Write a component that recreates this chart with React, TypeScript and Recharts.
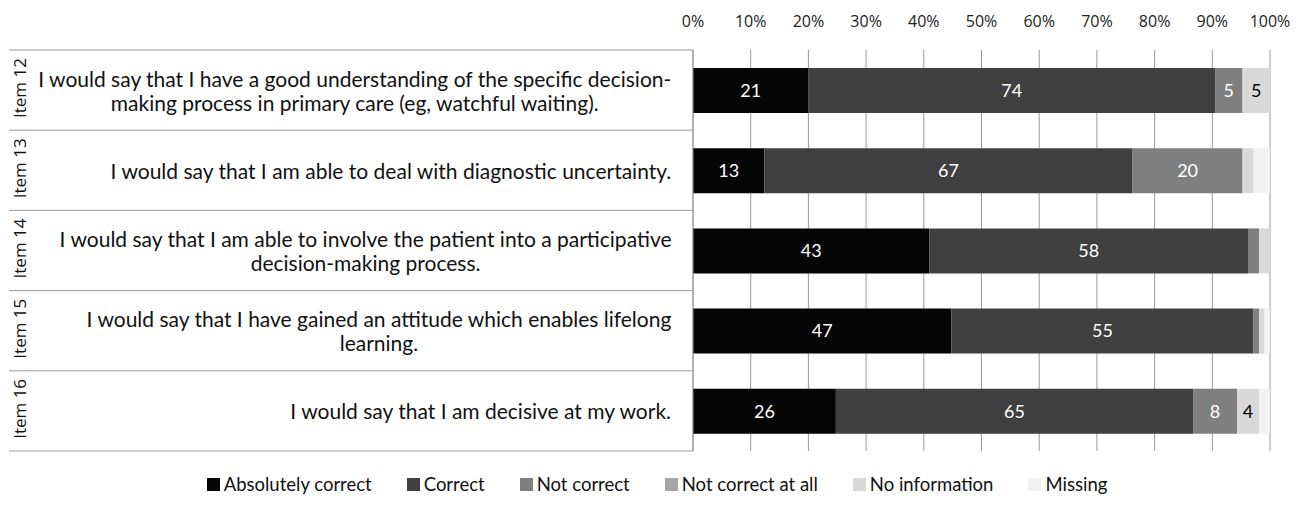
import React from 'react';
import { BarChart, Bar, XAxis, YAxis, CartesianGrid, Legend, LabelList } from 'recharts';

document.body.style.margin = '0';

const ITEMS = ['Item 12', 'Item 13', 'Item 14', 'Item 15', 'Item 16'];
const STATEMENTS = [
  ['I would say that I have a good understanding of the specific decision-', 'making process in primary care (eg, watchful waiting).'],
  ['I would say that I am able to deal with diagnostic uncertainty.'],
  ['I would say that I am able to involve the patient into a participative', 'decision-making process.'],
  ['I would say that I have gained an attitude which enables lifelong', 'learning.'],
  ['I would say that I am decisive at my work.'],
];
const ABSOLUTELY = [21, 13, 43, 47, 26];
const CORRECT = [74, 67, 58, 55, 65];
const NOT_CORRECT = [5, 20, 2, 1, 8];
const NOT_AT_ALL = [0, 0, 0, 0, 0];
const NO_INFO = [5, 2, 2, 1, 4];
const MISSING = [0, 3, 0, 1, 2];
const TICKS = [0, 0.1, 0.2, 0.3, 0.4, 0.5, 0.6, 0.7, 0.8, 0.9, 1];

const SERIES = [
  { key: 'abs', name: 'Absolutely correct', color: '#050505', text: '#fff' },
  { key: 'cor', name: 'Correct', color: '#404040', text: '#fff' },
  { key: 'nc', name: 'Not correct', color: '#7f7f7f', text: '#fff' },
  { key: 'nca', name: 'Not correct at all', color: '#a6a6a6', text: '#fff' },
  { key: 'ni', name: 'No information', color: '#d9d9d9', text: '#000' },
  { key: 'mis', name: 'Missing', color: '#f2f2f2', text: '#000' },
];

const data = ITEMS.map((item, i) => ({
  item,
  abs: ABSOLUTELY[i],
  cor: CORRECT[i],
  nc: NOT_CORRECT[i],
  nca: NOT_AT_ALL[i],
  ni: NO_INFO[i],
  mis: MISSING[i],
}));

const W = 1304;
const H = 508;
const AXIS_X = 693;
const ROW_H = 80.2;
const TEXT_RIGHT = 672;
const TEXT_SIZE = 21;
const TEXT_FONT = `${TEXT_SIZE}px Lato`;

const ctx = document.createElement('canvas').getContext('2d');
const measure = (s: string) => {
  if (!ctx) return s.length * 9.5;
  ctx.font = TEXT_FONT;
  return ctx.measureText(s).width;
};

// left "table": row borders, rotated item label, statement block right-aligned
const ItemTick = (props: any) => {
  const { y, payload } = props;
  const i = ITEMS.indexOf(payload.value);
  const lines = STATEMENTS[i];
  const maxW = Math.max(...lines.map(measure));
  const cx = TEXT_RIGHT - maxW / 2;
  const lh = 24;
  const y0 = y - ((lines.length - 1) * lh) / 2;
  return (
    <g>
      <line x1={9} x2={AXIS_X} y1={y - ROW_H / 2} y2={y - ROW_H / 2} stroke="#999" />
      {i === ITEMS.length - 1 && (
        <line x1={9} x2={AXIS_X} y1={y + ROW_H / 2} y2={y + ROW_H / 2} stroke="#999" />
      )}
      <text
        transform={`translate(19 ${y - 2}) rotate(-90)`}
        textAnchor="middle"
        dominantBaseline="central"
        fontFamily="Open Sans"
        fontSize={17}
        fill="#111"
      >
        {payload.value}
      </text>
      {lines.map((l, k) => (
        <text
          key={k}
          x={cx}
          y={y0 + k * lh}
          textAnchor="middle"
          dominantBaseline="central"
          fontFamily="Lato"
          fontSize={TEXT_SIZE}
          fill="#111"
        >
          {l}
        </text>
      ))}
    </g>
  );
};

const LegendContent = () => (
  <div
    style={{
      height: 44,
      display: 'flex',
      alignItems: 'flex-end',
      justifyContent: 'center',
      fontFamily: 'Lato',
      fontSize: 18.5,
      color: '#111',
      paddingLeft: 44,
    }}
  >
    {SERIES.map((s, i) => (
      <div key={s.key} style={{ display: 'flex', alignItems: 'center', marginLeft: i ? 35 : 0 }}>
        <span style={{ width: 13, height: 13, background: s.color, marginRight: 4, display: 'inline-block' }} />
        <span>{s.name}</span>
      </div>
    ))}
  </div>
);

export default function App() {
  return (
    <BarChart
      width={W}
      height={H}
      layout="vertical"
      data={data}
      stackOffset="expand"
      barCategoryGap={0}
      margin={{ top: 20, right: 34, left: 0, bottom: 13 }}
    >
      <CartesianGrid horizontal={false} stroke="#999" />
      <XAxis
        type="number"
        orientation="top"
        domain={[0, 1]}
        ticks={TICKS}
        height={30}
        axisLine={false}
        tickLine={false}
        tickSize={0}
        tickMargin={23}
        tick={{ fill: '#222', fontSize: 16, fontFamily: 'Open Sans' }}
        tickFormatter={(v: number) => `${Math.round(v * 100)}%`}
        interval={0}
      />
      <YAxis
        type="category"
        dataKey="item"
        width={AXIS_X}
        axisLine={{ stroke: '#999' }}
        tickLine={false}
        tick={<ItemTick />}
      />
      <Legend verticalAlign="bottom" content={<LegendContent />} />
      {SERIES.map((s) => (
        <Bar key={s.key} dataKey={s.key} name={s.name} stackId="a" fill={s.color} barSize={45} isAnimationActive={false}>
          <LabelList
            dataKey={s.key}
            position="center"
            fill={s.text}
            fontSize={18}
            fontFamily="Lato"
            formatter={(v: any) => (Number(v) >= 4 ? v : '')}
          />
        </Bar>
      ))}
    </BarChart>
  );
}
